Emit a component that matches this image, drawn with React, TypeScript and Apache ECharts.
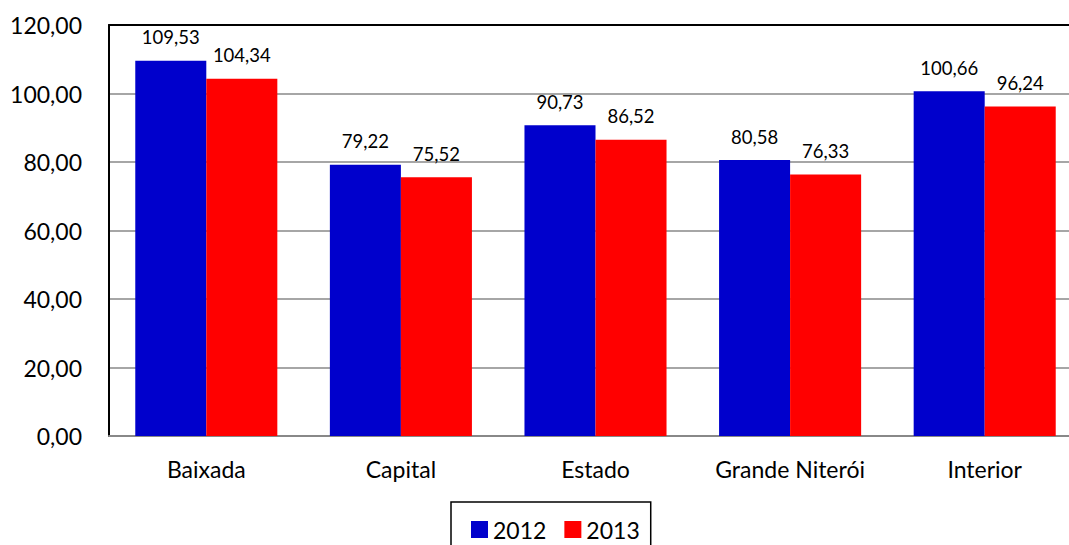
import React, { useEffect, useRef } from "react";
import * as echarts from "echarts";

const categories = ["Baixada", "Capital", "Estado", "Grande Niterói", "Interior"];
const values2012 = [109.53, 79.22, 90.73, 80.58, 100.66];
const values2013 = [104.34, 75.52, 86.52, 76.33, 96.24];
const seriesNames = ["2012", "2013"];

const FONT = "Lato, 'Open Sans', sans-serif";
const fmt = (v: number) => v.toFixed(2).replace(".", ",");

export default function App() {
  const ref = useRef<HTMLDivElement>(null);
  useEffect(() => {
    if (!ref.current) return;
    const chart = echarts.init(ref.current, undefined, { renderer: "svg" });
    const label = {
      show: true,
      position: "top" as const,
      distance: 14,
      fontFamily: FONT,
      fontSize: 18.5,
      color: "#000",
      formatter: (p: any) => fmt(p.value),
    };
    chart.setOption({
      animation: false,
      backgroundColor: "#fff",
      textStyle: { fontFamily: FONT },
      grid: { left: 109, right: 0, top: 25, bottom: 109, containLabel: false },
      legend: {
        data: seriesNames,
        left: 451,
        top: 502,
        padding: [16, 11, 20, 20],
        itemGap: 18,
        itemWidth: 17,
        itemHeight: 17,
        borderColor: "#000",
        borderWidth: 1.5,
        textStyle: { fontFamily: FONT, fontSize: 23, color: "#000", padding: [0, 0, 0, 0] },
        icon: "rect",
      },
      xAxis: [
        {
          type: "category",
          data: categories,
          axisLine: { lineStyle: { color: "#888", width: 2 } },
          axisTick: { show: false },
          axisLabel: { fontFamily: FONT, fontSize: 23, color: "#000", margin: 21, interval: 0 },
        },
        {
          type: "category",
          data: categories,
          position: "top",
          axisLine: { show: true, lineStyle: { color: "#000", width: 2 } },
          axisTick: { show: false },
          axisLabel: { show: false },
        },
      ],
      yAxis: {
        type: "value",
        min: 0,
        max: 120,
        interval: 20,
        axisLine: { show: true, lineStyle: { color: "#000", width: 2 } },
        axisTick: { show: false },
        splitLine: { lineStyle: { color: "#888", width: 1.5 } },
        axisLabel: {
          fontFamily: FONT,
          fontSize: 23,
          color: "#000",
          margin: 27,
          formatter: (v: number) => fmt(v),
        },
      },
      series: [
        {
          name: seriesNames[0],
          type: "bar",
          data: values2012,
          barGap: "0%",
          barCategoryGap: "27%",
          itemStyle: { color: "#0000CC" },
          label,
        },
        {
          name: seriesNames[1],
          type: "bar",
          data: values2013,
          itemStyle: { color: "#FF0000" },
          label,
        },
      ],
    });
    return () => chart.dispose();
  }, []);
  return (
    <div
      style={{ position: "fixed", left: 0, top: 0, width: 1069, height: 545, overflow: "hidden", background: "#fff" }}
    >
      <div ref={ref} style={{ width: 1082, height: 545 }} />
    </div>
  );
}
